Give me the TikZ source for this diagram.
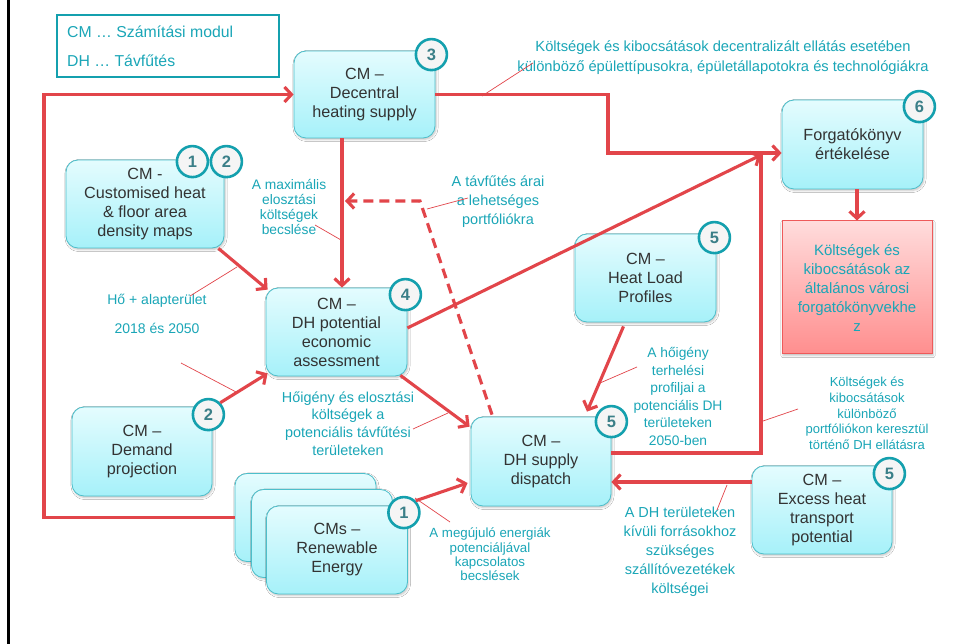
\documentclass[tikz,border=0pt]{standalone}
\usepackage{fontspec}
\setmainfont{Liberation Sans}
\usetikzlibrary{arrows.meta,calc,shadows.blur}
\definecolor{tealtxt}{HTML}{1AA6B7}
\definecolor{redl}{HTML}{E2454A}
\definecolor{cmborder}{HTML}{4CBFCB}
\definecolor{cmtop}{HTML}{E4FCFE}
\definecolor{cmbot}{HTML}{A6F1F9}
\definecolor{nodetxt}{HTML}{333333}
\definecolor{badgering}{HTML}{14A0AE}
\definecolor{badgetxt}{HTML}{3B7F88}
\definecolor{pinktop}{HTML}{FFDCDC}
\definecolor{pinkbot}{HTML}{FF8E8E}
\definecolor{pinkborder}{HTML}{EE5A5A}
\begin{document}
\begin{tikzpicture}[x=1pt,y=-1pt,
 cmbox/.style={draw=cmborder, line width=0.8pt, rounded corners=12pt, top color=cmtop, bottom color=cmbot, text=nodetxt, align=center, font=\fontsize{16.2}{19}\selectfont, inner sep=0pt, minimum width=141pt, minimum height=88pt, blur shadow={shadow xshift=1pt, shadow yshift=-1.5pt, shadow blur steps=4, shadow opacity=25}},
 badge/.style={circle, draw=badgering, line width=2.6pt, fill=white!96!black, minimum size=31pt, inner sep=0pt, text=badgetxt, font=\fontsize{16.5}{16.5}\selectfont\bfseries},
 conn/.style={draw=redl, line width=3.1pt, -{Straight Barb[length=7pt,width=15pt]}},
 plainred/.style={draw=redl, line width=3.1pt},
 leader/.style={draw=redl, line width=0.7pt},
 lbl/.style={text=tealtxt, align=center, inner sep=0pt},
]
\fill[white] (0,0) rectangle (956,644);
\useasboundingbox (0,0) rectangle (956,644);
\draw[line width=3pt] (8.5,0) -- (8.5,644);

% legend
\node[draw=badgering, line width=1.8pt, minimum width=222pt, minimum height=62pt, inner sep=0pt] (legend) at (168,46) {};
\node[lbl, anchor=west, font=\fontsize{15.8}{19}\selectfont] (leg1) at (67,32) {CM … Számítási modul};
\node[lbl, anchor=west, font=\fontsize{15.8}{19}\selectfont] (leg2) at (67,61) {DH … Távfűtés};

% nodes
\node[cmbox, minimum height=87pt] (n3) at (364.5,94.5) {CM –\\Decentral\\heating supply};
\node[cmbox, minimum width=158pt] (cust) at (145,204) {CM -\\Customised heat\\\& floor area\\density maps};
\node[cmbox] (n4) at (336.5,332) {CM –\\DH potential\\economic\\assessment};
\node[cmbox, minimum width=140pt, minimum height=89pt] (dem) at (142,451.5) {CM –\\Demand\\projection};
\node[cmbox] (ren1) at (305.5,517.5) {};
\node[cmbox] (ren2) at (322,533.5) {};
\node[cmbox] (ren) at (337,550) {CMs –\\Renewable\\Energy};
\node[cmbox, minimum width=140pt, minimum height=89pt] (disp) at (541,461.5) {CM –\\DH supply\\dispatch};
\node[cmbox] (hlp) at (645.5,278) {CM –\\Heat Load\\Profiles};
\node[cmbox, minimum height=89pt] (n6) at (852.5,144.5) {Forgatókönyv\\értékelése};
\node[cmbox, minimum width=140pt] (exh) at (822,510) {CM –\\Excess heat\\transport\\potential};
\node[draw=pinkborder, line width=1pt, top color=pinktop, bottom color=pinkbot, minimum width=150pt, minimum height=133pt, inner sep=0pt, text=tealtxt, align=center, font=\fontsize{15}{19}\selectfont, blur shadow={shadow xshift=1pt, shadow yshift=-1.5pt, shadow blur steps=4, shadow opacity=25}] (res) at (857,287.5) {Költségek és\\kibocsátások az\\általános városi\\forgatókönyvekhe\\z};

% connectors
\coordinate (lc) at (44,0);
\draw[conn] (ren1.west) -| (lc |- n3.west) -- (n3.west);
\coordinate (n6in) at ($(n6.west)+(0,8.5)$);
\coordinate (k2) at (608,0);
\draw[conn] (n3.east) -| (k2 |- n6in) -- (n6in);
\coordinate (v3) at (342,0);
\draw[conn] (n3.south -| v3) -- (n4.north -| v3);
\draw[conn] ($(cust.south east)+(-6,0)$) -- ($(n4.north west)+(2,2)$);
\coordinate (jn) at (761,155);
\draw[plainred] ($(disp.east)+(0,-8.5)$) -| (jn);
\draw[conn] ($(n4.east)+(0,-4)$) -- (jn);
\draw[conn] ($(n4.south east)+(-7,-1)$) -- ($(disp.north west)+(-1,10)$);
\draw[conn] ($(hlp.south)+(-22,4)$) -- ($(disp.north)+(46,-5)$);
\draw[conn] ($(exh.west)+(0,-28)$) -- ($(disp.east)+(0,20.5)$);
\draw[conn] (n6.south -| res.north) -- (res.north);
\coordinate (dk) at (420,201);
\coordinate (dtip) at (345,201);
\draw[conn, dash pattern=on 10pt off 6pt] ($(disp.north)+(-49,-2)$) -- (dk) -- (dtip);

% badges
\node[badge] (b3) at ($(n3.north east)+(-4,4)$) {3};
\node[badge] (bc1) at ($(cust.north east)+(-32,2)$) {1};
\node[badge] (bc2) at ($(cust.north east)+(2,2)$) {2};
\node[badge] (b4) at ($(n4.north east)+(-2,7)$) {4};
\node[badge] (bd2) at ($(dem.north east)+(-4,8)$) {2};
\node[badge] (br1) at ($(ren.north east)+(-4,7)$) {1};
\node[badge] (bs5) at ($(disp.north east)+(0,5)$) {5};
\node[badge] (bh5) at ($(hlp.north east)+(-2,4)$) {5};
\node[badge] (b6) at ($(n6.north east)+(-4,7)$) {6};
\node[badge] (be5) at ($(exh.north east)+(-3,8)$) {5};

\draw[conn] (bd2.north east) -- ($(n4.south west)+(2,-3)$);
\draw[conn] (br1.north east) -- ($(disp.west)+(-3,21.5)$);

% labels
\node[lbl, font=\fontsize{14.7}{20}\selectfont] (t1) at (723,58) {Költségek és kibocsátások decentralizált ellátás esetében\\különböző épülettípusokra, épületállapotokra és technológiákra};
\node[lbl, font=\fontsize{13.8}{14.7}\selectfont] (t2) at (289,207) {A maximális\\elosztási\\költségek\\becslése};
\node[lbl, font=\fontsize{14.5}{19}\selectfont] (t3) at (498,202) {A távfűtés árai\\a lehetséges\\portfóliókra};
\node[lbl, font=\fontsize{14}{19}\selectfont] (t4) at (157,301) {Hő + alapterület};
\node[lbl, font=\fontsize{14}{19}\selectfont] (t5) at (157,328) {2018 és 2050};
\node[lbl, font=\fontsize{14.4}{17.7}\selectfont] (t6) at (348,423.5) {Hőigény és elosztási\\költségek a\\potenciális távfűtési\\területeken};
\node[lbl, font=\fontsize{13.8}{17.5}\selectfont] (t7) at (678,396.5) {A hőigény\\terhelési\\profiljai a\\potenciális DH\\területeken\\2050-ben};
\node[lbl, font=\fontsize{13}{15.7}\selectfont] (t8) at (867,413.5) {Költségek és\\kibocsátások\\különböző\\portfóliókon keresztül\\történő DH ellátásra};
\node[lbl, font=\fontsize{13.3}{14.3}\selectfont] (t9) at (490,554.5) {A megújuló energiák\\potenciáljával\\kapcsolatos\\becslések};
\node[lbl, font=\fontsize{14.5}{19}\selectfont] (t10) at (680,551.5) {A DH területeken\\kívüli forrásokhoz\\szükséges\\szállítóvezetékek\\költségei};

% leader lines
\draw[leader] (482,96) -- (533,63);
\draw[leader] (315,225) -- (341,240);
\draw[leader] (427,209) -- (468,198);
\draw[leader] (190,296) -- (237,267);
\draw[leader] (181,363) -- (238,393);
\draw[leader] (413,429) -- (448,413);
\draw[leader] (600,383) -- (637,367);
\draw[leader] (763,421) -- (798,409);
\draw[leader] (415,498) -- (450,522);
\draw[leader] (727,485) -- (717,510);
\end{tikzpicture}
\end{document}
